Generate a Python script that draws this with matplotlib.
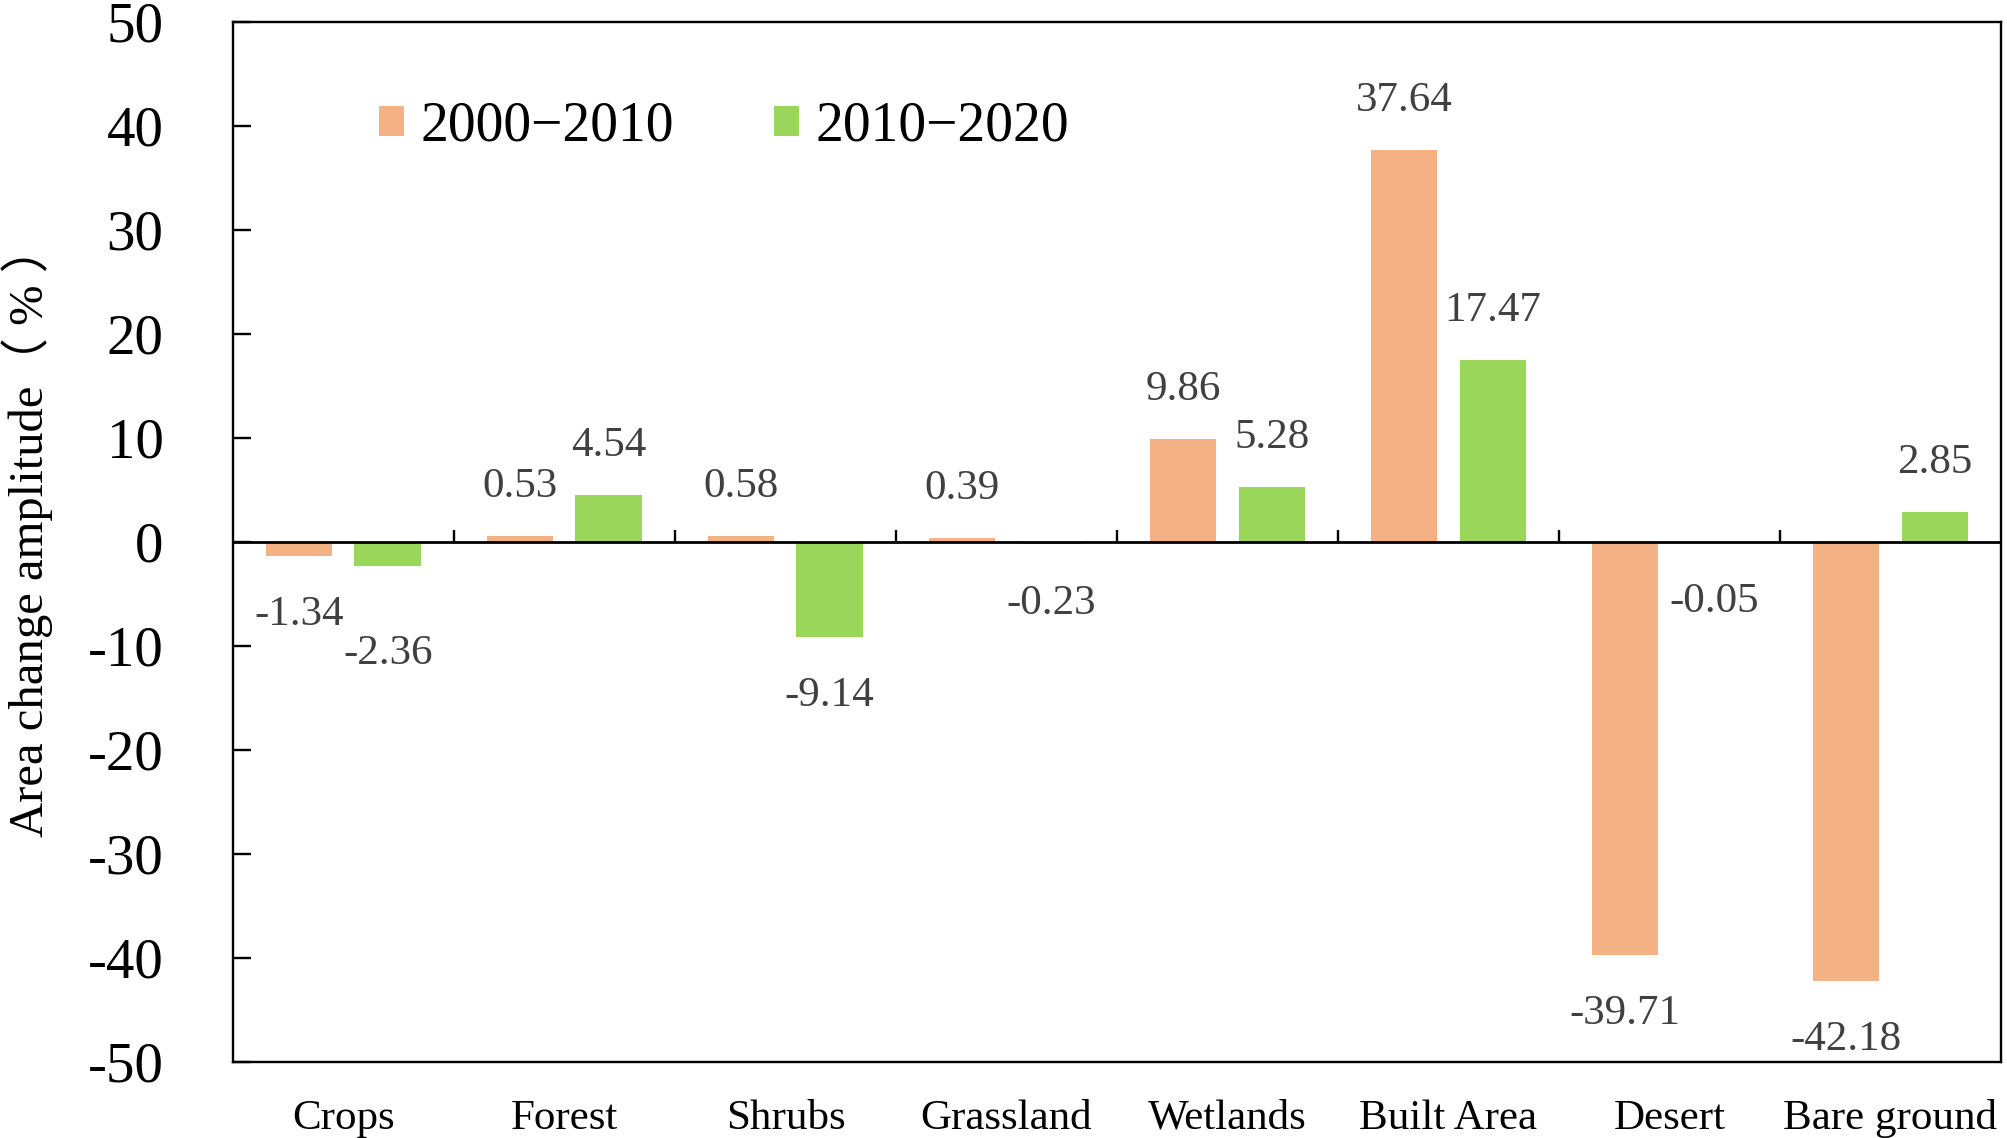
import numpy as np
import matplotlib
matplotlib.use('Agg')
from matplotlib import pyplot as plt

### Data ###
categories = ['Crops', 'Forest', 'Shrubs', 'Grassland', 'Wetlands',
              'Built Area', 'Desert', 'Bare ground']
series_names = ['2000\u22122010', '2010\u22122020']
change_2000_2010 = [-1.34, 0.53, 0.58, 0.39, 9.86, 37.64, -39.71, -42.18]
change_2010_2020 = [-2.36, 4.54, -9.14, -0.23, 5.28, 17.47, -0.05, 2.85]
y_ticks = [-50, -40, -30, -20, -10, 0, 10, 20, 30, 40, 50]
##############

ORANGE = '#F4B183'
GREEN = '#99D65A'
LABEL_GRAY = '#404040'
SERIF = ['Liberation Serif', 'Noto Sans CJK SC']

plt.rcParams['font.family'] = SERIF

fig = plt.figure(figsize=(20.08, 11.38), dpi=100)
ax = fig.add_axes((0.116, 0.0668, 0.8805, 0.914))

x = np.arange(len(categories))
width = 0.3
bars_a = ax.bar(x - 0.2, change_2000_2010, width, color=ORANGE, label=series_names[0], zorder=2)
bars_b = ax.bar(x + 0.2, change_2010_2020, width, color=GREEN, label=series_names[1], zorder=2)

# data labels sit a fixed distance beyond the bar end
def label_bars(bars, values, extra=None):
    extra = extra or {}
    for i, (b, v) in enumerate(zip(bars, values)):
        off = 39 + extra.get(i, 0)
        dy = (off if v >= 0 else -off) - 3.6
        ax.annotate(f'{v:.2f}', (b.get_x() + b.get_width() / 2, v),
                    xytext=(0, dy), textcoords='offset points',
                    ha='center', va='center', fontsize=31, color=LABEL_GRAY)

label_bars(bars_a, change_2000_2010)
label_bars(bars_b, change_2010_2020, extra={0: 20})

# zero line with small category separators
ax.axhline(0, color='black', lw=2, zorder=3)
bounds = np.arange(len(categories) - 1) + 0.5
ax.plot(bounds, np.zeros_like(bounds), ls='none', marker=2, ms=9, mew=1.7,
        color='black', zorder=3)

ax.set_xlim(-0.5, len(categories) - 0.5)
ax.set_ylim(-50, 50)
ax.set_yticks(y_ticks)
ax.set_yticklabels([str(t) for t in y_ticks])
ax.set_xticks(x)
ax.set_xticklabels(categories)
ax.tick_params(axis='y', direction='in', length=13, width=1.7, pad=50, labelsize=41)
ax.tick_params(axis='x', length=0, pad=27, labelsize=31)
for s in ax.spines.values():
    s.set_linewidth(1.7)

ax.set_ylabel('Area change amplitude\uff08 % \uff09', fontsize=35)
ax.yaxis.set_label_coords(-0.102, 0.511)

ax.legend(loc='center left', bbox_to_anchor=(0.0826, 0.899), ncol=2,
          frameon=False, fontsize=40, handlelength=0.45, handleheight=0.45,
          handletextpad=0.3, columnspacing=1.8, borderpad=0, borderaxespad=0)

fig.savefig('out.png', dpi=100)
